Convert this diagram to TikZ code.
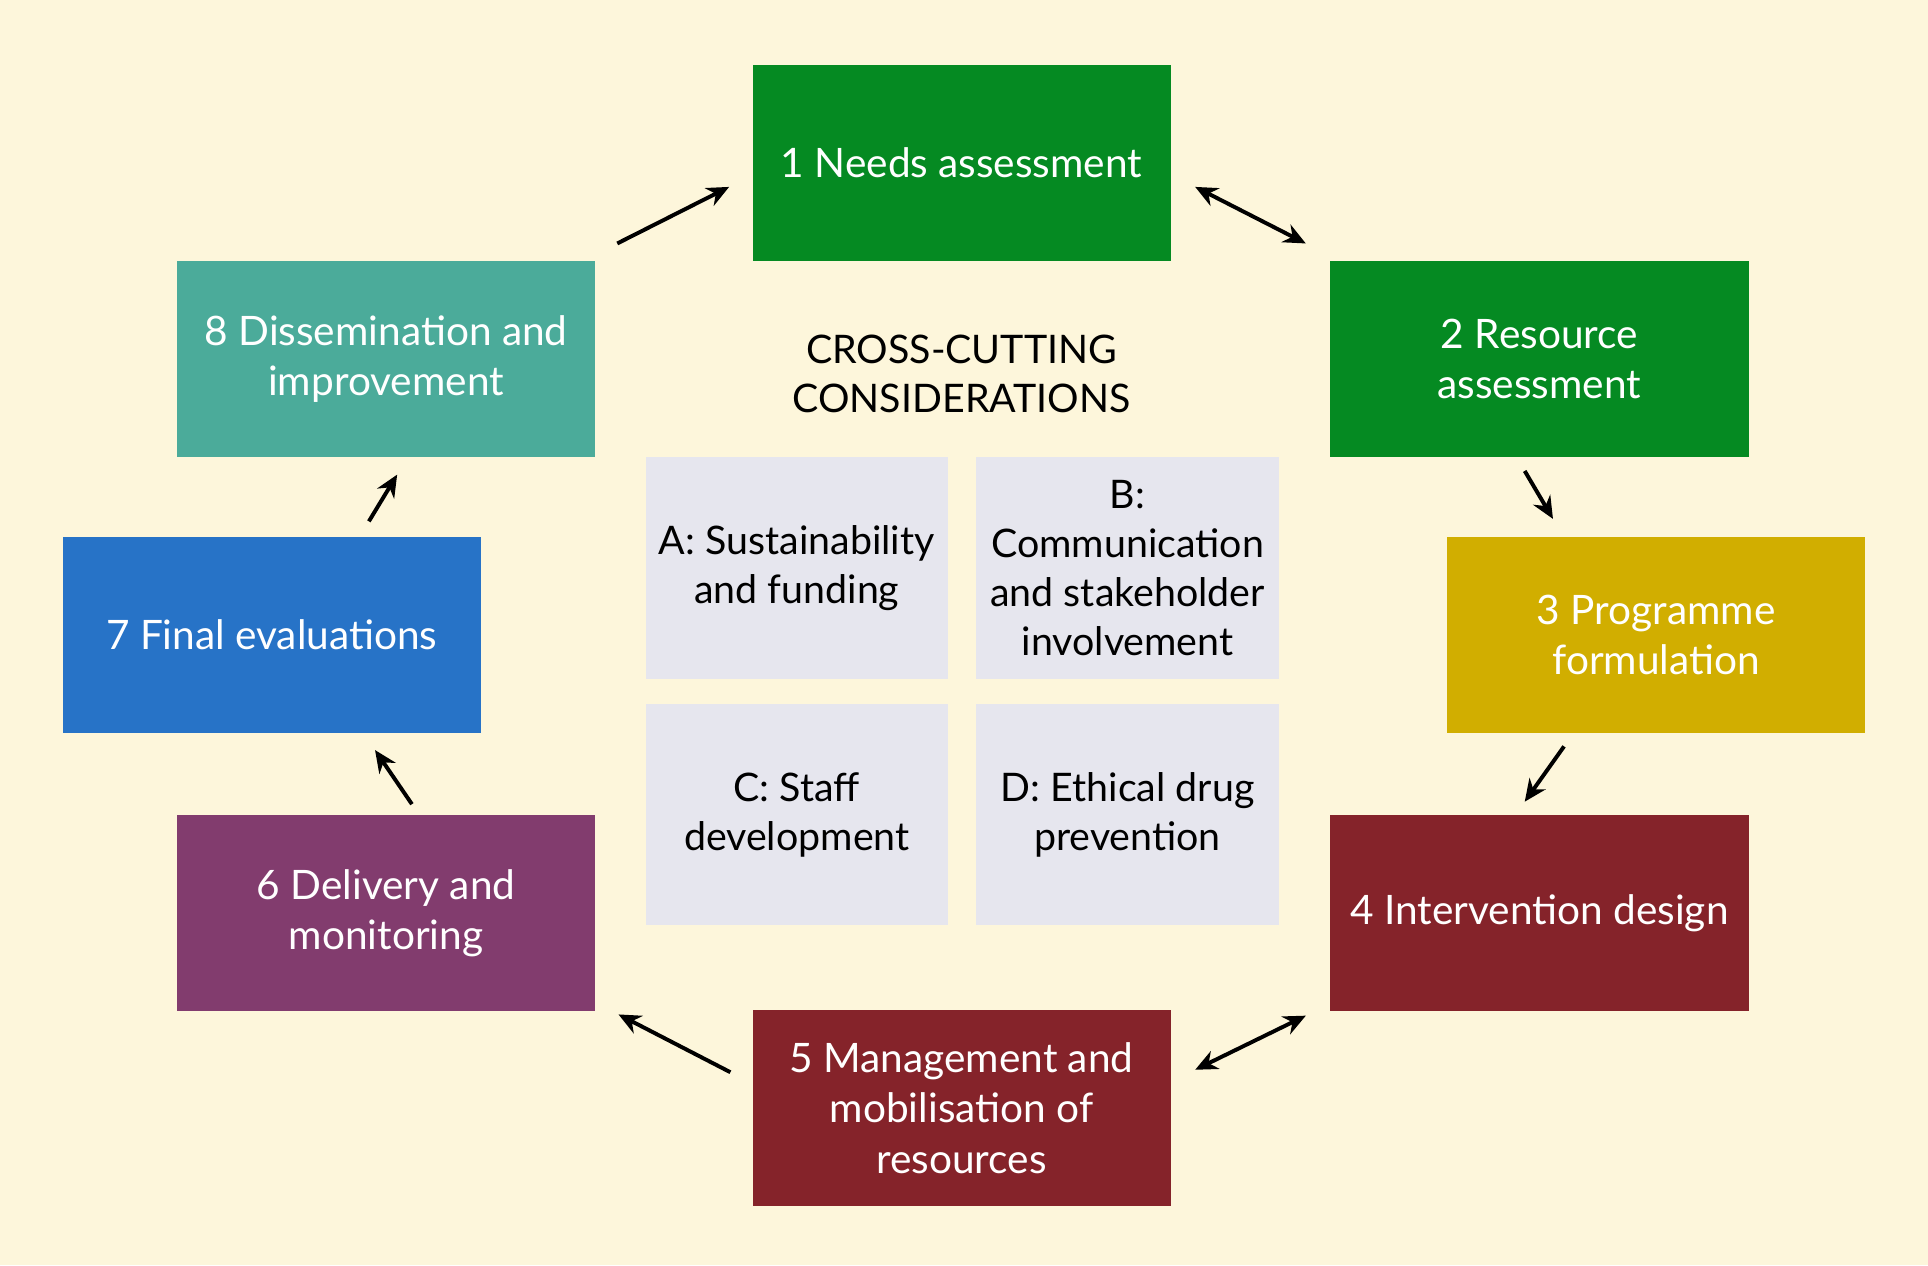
\documentclass[tikz,border=0pt]{standalone}
\usepackage{fontspec}
\setmainfont{Lato}
\usetikzlibrary{arrows.meta}
\begin{document}
\begin{tikzpicture}[x=0.5pt,y=-0.5pt,
 box/.style={draw=none,minimum width=170pt,minimum height=79.5pt,inner sep=0pt,text=white,align=center,font=\fontsize{16.5}{20.5}\selectfont},
 cc/.style={fill=ccgray,minimum width=123pt,minimum height=90pt,inner sep=0pt,align=center,font=\fontsize{16}{20}\selectfont},
 arr/.style={line width=1.6pt,-{Stealth[length=9pt,width=8pt]}},
 darr/.style={line width=1.6pt,{Stealth[length=9pt,width=8pt]}-{Stealth[length=9pt,width=8pt]}}]
\definecolor{bg}{HTML}{FDF6DB}
\definecolor{gr}{HTML}{058A22}
\definecolor{ye}{HTML}{D1AE00}
\definecolor{dr}{HTML}{85232A}
\definecolor{pu}{HTML}{823C6E}
\definecolor{bl}{HTML}{2773C7}
\definecolor{te}{HTML}{4BAB9A}
\definecolor{ccgray}{HTML}{E6E6EE}
\fill[bg] (0,0) rectangle (1568,1029);
\useasboundingbox (0,0) rectangle (1568,1029);
\node[box,fill=gr] (n1) at (782,132.5) {1 Needs assessment};
\node[box,fill=gr] (n2) at (1252,292) {2 Resource\\assessment};
\node[box,fill=ye] (n3) at (1347,516.5) {3 Programme\\formulation};
\node[box,fill=dr] (n4) at (1252,742.5) {4 Intervention design};
\node[box,fill=dr] (n5) at (782,901) {5 Management and\\mobilisation of\\resources};
\node[box,fill=pu] (n6) at (314,742.5) {6 Delivery and\\monitoring};
\node[box,fill=bl] (n7) at (221,516.5) {7 Final evaluations};
\node[box,fill=te] (n8) at (314,292) {8 Dissemination and\\improvement};
\node[align=center,font=\fontsize{16}{20}\selectfont] (t) at (782,304) {CROSS-CUTTING\\CONSIDERATIONS};
\node[cc] (a) at (648,462) {A: Sustainability\\and funding};
\node[cc] (b) at (917,462) {B:\\Communication\\and stakeholder\\involvement};
\node[cc] (c) at (648,662.5) {C: Staff\\development};
\node[cc] (d) at (917,662.5) {D: Ethical drug\\prevention};
\coordinate (p1a) at (972,152); \coordinate (p1b) at (1062,198);
\coordinate (p2a) at (1240,383); \coordinate (p2b) at (1263,422);
\coordinate (p3a) at (1272,607); \coordinate (p3b) at (1240,652);
\coordinate (p4a) at (1062,826); \coordinate (p4b) at (972,870);
\coordinate (p5a) at (594,872); \coordinate (p5b) at (503,825);
\coordinate (p6a) at (335,654); \coordinate (p6b) at (305,610);
\coordinate (p7a) at (300,424); \coordinate (p7b) at (323,386);
\coordinate (p8a) at (502,198); \coordinate (p8b) at (593,152);
\draw[darr] (p1a) -- (p1b);
\draw[arr] (p2a) -- (p2b);
\draw[arr] (p3a) -- (p3b);
\draw[darr] (p4a) -- (p4b);
\draw[arr] (p5a) -- (p5b);
\draw[arr] (p6a) -- (p6b);
\draw[arr] (p7a) -- (p7b);
\draw[arr] (p8a) -- (p8b);
\end{tikzpicture}
\end{document}
